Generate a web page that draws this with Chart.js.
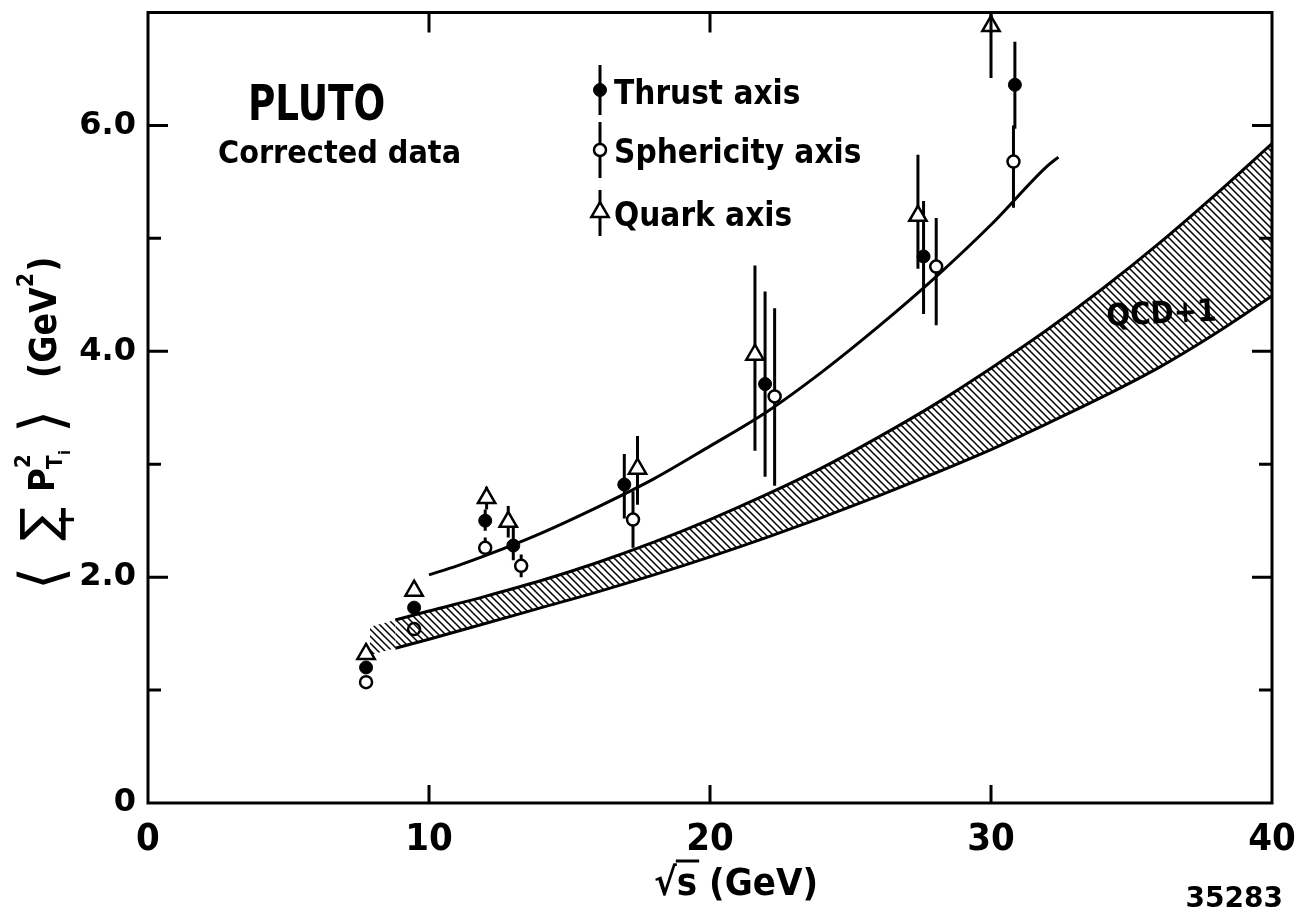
<!DOCTYPE html>
<html>
<head>
<meta charset="utf-8">
<script src="https://cdn.jsdelivr.net/npm/chart.js@4.4.1/dist/chart.umd.min.js"></script>
<style>
  html, body { margin: 0; padding: 0; background: #fff; }
  #wrap { width: 1297px; height: 916px; }
</style>
</head>
<body>
<div id="wrap"><canvas id="ptChart" width="1297" height="916"></canvas></div>
<script>
// Data
const thrustX  = [7.76, 9.47, 12.0, 13.0, 16.95, 21.96, 27.6, 30.85];
const thrustY  = [1.20, 1.73, 2.50, 2.28, 2.82, 3.71, 4.84, 6.36];
const thrustLo = [null, null, 2.41, 2.15, 2.52, 2.89, 4.33, 5.97];
const thrustHi = [null, null, 2.60, 2.45, 3.09, 4.53, 5.33, 6.74];

const spherX  = [7.76, 9.47, 12.0, 13.28, 17.26, 22.3, 28.05, 30.8];
const spherY  = [1.07, 1.54, 2.26, 2.10, 2.51, 3.60, 4.75, 5.68];
const spherLo = [null, null, null, 2.00, 2.26, 2.81, 4.23, 5.27];
const spherHi = [null, null, 2.35, 2.20, 2.76, 4.38, 5.18, 6.00];

const quarkX  = [7.76, 9.47, 12.05, 12.82, 17.42, 21.6, 27.4, 30.0];
const quarkY  = [1.32, 1.88, 2.70, 2.49, 2.96, 3.97, 5.20, 6.88];
const quarkLo = [null, null, 2.60, 2.35, 2.64, 3.12, 4.73, 6.42];
const quarkHi = [null, null, 2.80, 2.63, 3.25, 4.76, 5.74, 7.00];

// fitted curve through the data
const fitX = [10, 11, 12, 14, 16, 18, 20, 22, 24, 26, 28, 30, 32, 32.4];
const fitY = [2.02, 2.10, 2.19, 2.39, 2.62, 2.87, 3.16, 3.46, 3.82, 4.22, 4.65, 5.12, 5.64, 5.72];

// QCD+1 band
const bandX     = [8.8, 10, 12, 14, 16, 18, 20, 22, 24, 26, 28, 30, 32, 34, 36, 38, 40];
const bandUpper = [1.62, 1.70, 1.83, 1.97, 2.13, 2.31, 2.51, 2.73, 2.97, 3.24, 3.53, 3.85, 4.19, 4.56, 4.96, 5.39, 5.84];
const bandLower = [1.37, 1.45, 1.59, 1.73, 1.87, 2.02, 2.18, 2.35, 2.53, 2.72, 2.92, 3.13, 3.36, 3.60, 3.86, 4.16, 4.49];
const extX      = [7.9, 8.8];
const extUpper  = [1.56, 1.62];
const extLower  = [1.31, 1.37];

const xTickVals = [0, 10, 20, 30, 40];
const yTickText = ["0", "", "2.0", "", "4.0", "", "6.0", ""];

const COND = "'DejaVu Sans Condensed', 'DejaVu Sans', sans-serif";
const pts = (xs, ys) => xs.map((x, i) => ({ x: x, y: ys[i] }));

// hatch pattern for the band
function hatch() {
  const c = document.createElement("canvas");
  c.width = 7; c.height = 7;
  const g = c.getContext("2d");
  g.strokeStyle = "#000";
  g.lineWidth = 1.5;
  g.beginPath();
  g.moveTo(-1, -1); g.lineTo(8, 8);
  g.moveTo(-4.5, 2.5); g.lineTo(4.5, 11.5);
  g.moveTo(2.5, -4.5); g.lineTo(11.5, 4.5);
  g.stroke();
  return g.createPattern(c, "repeat");
}
const pattern = hatch();

const thrustStyle = { pointStyle: "circle", radius: 6.5, borderWidth: 1, borderColor: "#000", backgroundColor: "#000", rotation: 0 };
const spherStyle  = { pointStyle: "circle", radius: 6, borderWidth: 2.5, borderColor: "#000", backgroundColor: "#fff", rotation: 0 };
const quarkStyle  = { pointStyle: "triangle", radius: 10, borderWidth: 2.5, borderColor: "#000", backgroundColor: "#fff", rotation: 0 };

const errSeries = [
  { x: thrustX, y: thrustY, lo: thrustLo, hi: thrustHi },
  { x: spherX, y: spherY, lo: spherLo, hi: spherHi },
  { x: quarkX, y: quarkY, lo: quarkLo, hi: quarkHi }
];

const deco = {
  id: "deco",
  beforeDatasetsDraw(chart) {
    const ctx = chart.ctx, xs = chart.scales.x, ys = chart.scales.y, a = chart.chartArea;
    ctx.save();
    ctx.beginPath();
    ctx.rect(a.left, a.top, a.right - a.left, a.bottom - a.top);
    ctx.clip();
    ctx.strokeStyle = "#000";
    ctx.lineWidth = 3;
    errSeries.forEach(s => {
      s.x.forEach((x, i) => {
        if (s.lo[i] == null && s.hi[i] == null) return;
        const px = xs.getPixelForValue(x);
        ctx.beginPath();
        ctx.moveTo(px, ys.getPixelForValue(s.hi[i] ?? s.y[i]));
        ctx.lineTo(px, ys.getPixelForValue(s.lo[i] ?? s.y[i]));
        ctx.stroke();
      });
    });
    ctx.restore();
  },
  afterDraw(chart) {
    const ctx = chart.ctx, xs = chart.scales.x, ys = chart.scales.y, a = chart.chartArea;
    ctx.save();
    ctx.strokeStyle = "#000";
    ctx.fillStyle = "#000";
    ctx.lineWidth = 3;
    ctx.strokeRect(a.left, a.top, a.right - a.left, a.bottom - a.top);

    // inward ticks
    for (let v = 1; v <= 6; v++) {
      const py = ys.getPixelForValue(v);
      const len = v % 2 === 0 ? 20 : 13;
      ctx.beginPath();
      ctx.moveTo(a.left, py); ctx.lineTo(a.left + len, py);
      ctx.moveTo(a.right, py); ctx.lineTo(a.right - len, py);
      ctx.stroke();
    }
    [10, 20, 30].forEach(v => {
      const px = xs.getPixelForValue(v);
      ctx.beginPath();
      ctx.moveTo(px, a.bottom); ctx.lineTo(px, a.bottom - 18);
      ctx.moveTo(px, a.top); ctx.lineTo(px, a.top + 20);
      ctx.stroke();
    });

    // title block
    ctx.textBaseline = "alphabetic";
    ctx.textAlign = "left";
    ctx.save();
    ctx.translate(248, 120);
    ctx.scale(0.83, 1);
    ctx.font = "bold 50px " + COND;
    ctx.fillText("PLUTO", 0, 0);
    ctx.restore();
    ctx.font = "bold 32px " + COND;
    ctx.fillText("Corrected data", 218, 163);

    // legend
    const legend = [
      { st: thrustStyle, y: 90, top: 65, bot: 115, text: "Thrust axis", ty: 104 },
      { st: spherStyle, y: 150, top: 122, bot: 178, text: "Sphericity axis", ty: 163 },
      { st: quarkStyle, y: 212, top: 190, bot: 236, text: "Quark axis", ty: 226 }
    ];
    ctx.font = "bold 33px " + COND;
    legend.forEach(l => {
      ctx.lineWidth = 3;
      ctx.beginPath();
      ctx.moveTo(600, l.top); ctx.lineTo(600, l.bot);
      ctx.stroke();
      ctx.fillStyle = l.st.backgroundColor;
      ctx.strokeStyle = l.st.borderColor;
      ctx.lineWidth = l.st.borderWidth;
      Chart.helpers.drawPoint(ctx, l.st, 600, l.y);
      ctx.fillStyle = "#000";
      ctx.strokeStyle = "#000";
      ctx.fillText(l.text, 614, l.ty);
    });

    // band label
    ctx.save();
    ctx.translate(1107, 326);
    ctx.rotate(-0.05);
    ctx.font = "bold 31px " + COND;
    ctx.fillText("QCD+1", 0, 0);
    ctx.restore();

    // x title
    ctx.font = "bold 38px " + COND;
    ctx.textAlign = "left";
    let xp = 654;
    ctx.fillText("\u221A", xp, 895);
    xp += ctx.measureText("\u221A").width;
    const sW = ctx.measureText("s").width;
    ctx.fillText("s", xp, 895);
    ctx.lineWidth = 3;
    ctx.beginPath();
    ctx.moveTo(xp - 1, 861); ctx.lineTo(xp + sW + 2, 861);
    ctx.stroke();
    ctx.fillText(" (GeV)", xp + sW, 895);

    // figure number
    ctx.font = "bold 28px 'DejaVu Sans'";
    ctx.textAlign = "right";
    ctx.fillText("35283", 1283, 907);

    // y title, rotated (u runs upward along the axis)
    ctx.save();
    ctx.translate(0, 803);
    ctx.rotate(-Math.PI / 2);
    ctx.textAlign = "left";
    const base = 58;
    ctx.font = "60px 'DejaVu Sans'";
    ctx.fillText("\u27E8", 213, base + 4);
    ctx.font = "50px 'DejaVu Sans'";
    ctx.fillText("\u2211", 262, base - 2);
    ctx.font = "bold 20px 'DejaVu Sans'";
    ctx.fillText("i", 280, base + 16);
    ctx.font = "bold 36px " + COND;
    ctx.fillText("P", 311, base - 4);
    ctx.font = "bold 22px " + COND;
    ctx.fillText("2", 335, base - 28);
    ctx.fillText("T", 334, base + 4);
    ctx.font = "bold 16px " + COND;
    ctx.fillText("i", 348, base + 12);
    ctx.font = "60px 'DejaVu Sans'";
    ctx.fillText("\u27E9", 370, base + 4);
    let u = 425;
    ctx.font = "bold 37px " + COND;
    ctx.fillText("(GeV", u, base - 2);
    u += ctx.measureText("(GeV").width;
    ctx.font = "bold 23px " + COND;
    ctx.fillText("2", u, base - 25);
    u += ctx.measureText("2").width + 1;
    ctx.font = "bold 37px " + COND;
    ctx.fillText(")", u, base - 2);
    ctx.restore();

    ctx.restore();
  }
};

new Chart(document.getElementById("ptChart").getContext("2d"), {
  type: "scatter",
  data: {
    datasets: [
      { data: pts(extX, extLower), showLine: true, borderWidth: 0, borderColor: "rgba(0,0,0,0)", pointRadius: 0 },
      { data: pts(extX, extUpper), showLine: true, borderWidth: 0, borderColor: "rgba(0,0,0,0)", pointRadius: 0, fill: "-1", backgroundColor: pattern },
      { data: pts(bandX, bandLower), showLine: true, borderWidth: 3, borderColor: "#000", pointRadius: 0, cubicInterpolationMode: "monotone" },
      { data: pts(bandX, bandUpper), showLine: true, borderWidth: 3, borderColor: "#000", pointRadius: 0, cubicInterpolationMode: "monotone", fill: "-1", backgroundColor: pattern },
      { data: pts(fitX, fitY), showLine: true, borderWidth: 3, borderColor: "#000", pointRadius: 0, cubicInterpolationMode: "monotone" },
      { data: pts(thrustX, thrustY), pointStyle: "circle", pointRadius: 6.5, pointBorderWidth: 1, pointBorderColor: "#000", pointBackgroundColor: "#000" },
      { data: pts(spherX, spherY), pointStyle: "circle", pointRadius: 6, pointBorderWidth: 2.5, pointBorderColor: "#000", pointBackgroundColor: "#fff" },
      { data: pts(quarkX, quarkY), pointStyle: "triangle", pointRadius: 10, pointBorderWidth: 2.5, pointBorderColor: "#000", pointBackgroundColor: "#fff" }
    ]
  },
  options: {
    responsive: false,
    animation: false,
    events: [],
    layout: { padding: { left: 0, right: 25, top: 12, bottom: 0 } },
    plugins: { legend: { display: false }, tooltip: { enabled: false } },
    scales: {
      x: {
        type: "linear", min: 0, max: 40,
        afterFit: s => { s.height = 113; s.paddingLeft = 0; s.paddingRight = 0; },
        afterBuildTicks: s => { s.ticks = xTickVals.map(v => ({ value: v })); },
        grid: { display: false, drawTicks: false },
        border: { display: false },
        ticks: { color: "#000", padding: 14, maxRotation: 0, font: { family: COND, size: 38, weight: "bold" } }
      },
      y: {
        type: "linear", min: 0, max: 7,
        afterFit: s => { s.width = 148; s.paddingTop = 0; s.paddingBottom = 0; },
        grid: { display: false, drawTicks: false },
        border: { display: false },
        ticks: {
          stepSize: 1, color: "#000", padding: 12,
          font: { family: "'DejaVu Sans'", size: 32, weight: "bold" },
          callback: v => yTickText[v] ?? ""
        }
      }
    }
  },
  plugins: [deco]
});
</script>
</body>
</html>
